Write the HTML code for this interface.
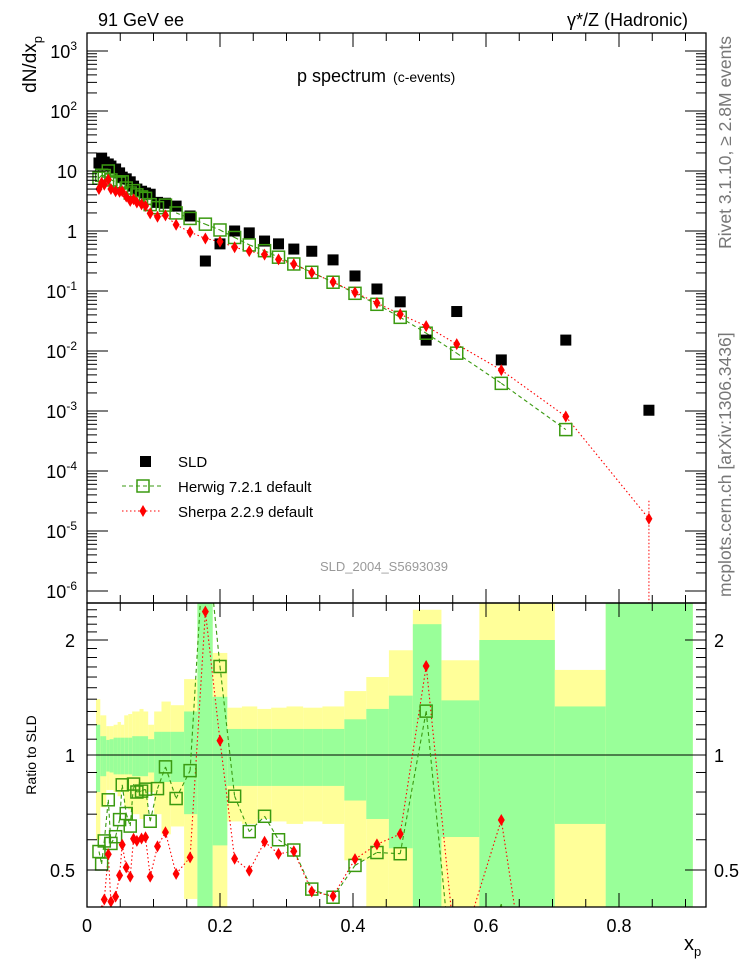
<!DOCTYPE html>
<html><head><meta charset="utf-8">
<style>
html,body{margin:0;padding:0;background:#fff;width:746px;height:972px;overflow:hidden;}
svg{display:block;font-family:"Liberation Sans",Arial,sans-serif;}
</style></head>
<body>
<svg id="chart" width="746" height="972" viewBox="0 0 746 972" xmlns="http://www.w3.org/2000/svg">
<defs>
<clipPath id="clipTop"><rect x="87" y="33" width="619" height="570"/></clipPath>
<clipPath id="clipBot"><rect x="87" y="603" width="619" height="304"/></clipPath>
</defs>
<g id="bands"></g>
<g id="marks"></g>
<rect x="87" y="33" width="619" height="570" fill="none" stroke="#000" stroke-width="1.3"/>
<rect x="87" y="603" width="619" height="304" fill="none" stroke="#000" stroke-width="1.3"/>
<g id="axes"></g>
<text x="98" y="26" font-size="18">91 GeV ee</text>
<text x="688" y="26" font-size="18" text-anchor="end">γ*/Z (Hadronic)</text>
<text x="297" y="82" font-size="18">p spectrum <tspan font-size="14" dx="2">(c-events)</tspan></text>
<text transform="translate(36,36) rotate(-90)" font-size="19" text-anchor="end">dN/dx<tspan font-size="13" dy="6">p</tspan></text>
<text transform="translate(36,755) rotate(-90)" font-size="14" text-anchor="middle">Ratio to SLD</text>
<text x="684" y="950" font-size="20">x<tspan font-size="13" dy="6">p</tspan></text>
<text transform="translate(731,36) rotate(-90)" font-size="17.5" fill="#777" text-anchor="end">Rivet 3.1.10, ≥ 2.8M events</text>
<text transform="translate(731,597) rotate(-90)" font-size="17.5" fill="#777">mcplots.cern.ch [arXiv:1306.3436]</text>
<text x="384" y="571" font-size="13" fill="#999" text-anchor="middle">SLD_2004_S5693039</text>
<g>
  <rect x="140" y="456" width="11" height="11" fill="#000"/>
  <text x="178" y="467" font-size="15">SLD</text>
  <line x1="122" y1="486" x2="162" y2="486" stroke="#3a9a10" stroke-dasharray="4,3"/>
  <rect x="137" y="480" width="12" height="12" fill="none" stroke="#3a9a10" stroke-width="1.5"/>
  <text x="178" y="492" font-size="15">Herwig 7.2.1 default</text>
  <line x1="122" y1="511" x2="162" y2="511" stroke="#f00" stroke-dasharray="1.5,2.5"/>
  <path d="M143,505 L146.5,511 L143,517 L139.5,511 Z" fill="#f00"/>
  <text x="178" y="517" font-size="15">Sherpa 2.2.9 default</text>
</g>
</svg>
<script>
const xp = [0.018,0.022,0.026,0.032,0.036,0.043,0.049,0.053,0.059,0.065,0.070,0.075,0.082,0.088,0.095,0.106,0.118,0.134,0.155,0.178,0.200,0.222,0.244,0.267,0.288,0.311,0.338,0.370,0.403,0.436,0.471,0.510,0.556,0.623,0.720,0.845];
const binEdges = [0.0135,0.020,0.024,0.029,0.034,0.040,0.046,0.051,0.056,0.062,0.068,0.073,0.079,0.085,0.092,0.101,0.112,0.126,0.146,0.166,0.189,0.211,0.233,0.256,0.277,0.300,0.325,0.354,0.387,0.420,0.454,0.490,0.533,0.590,0.7035,0.780,0.911];
const sld = [13.6,16.4,14.1,13.1,12.1,10.8,9.3,7.9,7.4,6.6,5.6,5.0,4.6,4.3,4.1,3.0,2.9,2.6,1.78,0.316,0.61,1.0,0.93,0.68,0.61,0.50,0.46,0.33,0.178,0.108,0.066,0.0152,0.0455,0.0071,0.0152,0.00103];
const herwig = [7.6,8.5,8.4,10.0,7.1,6.6,6.3,6.6,5.2,4.3,4.7,4.0,3.7,3.5,2.75,2.45,2.7,2.0,1.62,1.3,1.04,0.78,0.586,0.47,0.366,0.282,0.205,0.140,0.0915,0.060,0.0364,0.0198,0.0092,0.00289,0.00049,null];
const sherpa = [5.0,6.4,5.9,7.2,5.0,4.6,4.5,4.6,3.76,3.17,3.38,2.98,2.78,2.62,1.97,1.73,1.82,1.27,0.96,0.75,0.665,0.535,0.463,0.403,0.336,0.28,0.202,0.141,0.095,0.063,0.041,0.026,0.013,0.0048,0.00081,0.000016];
const errStat = [0.2,0.12,0.12,0.095,0.1,0.11,0.11,0.11,0.11,0.11,0.12,0.12,0.12,0.12,0.1,0.15,0.15,0.15,0.3,1.6,0.42,0.17,0.17,0.17,0.17,0.17,0.17,0.17,0.24,0.32,0.43,1.2,0.39,1.0,0.34,1.6];
const errTot = [0.40,0.27,0.27,0.19,0.19,0.2,0.22,0.2,0.27,0.28,0.3,0.3,0.32,0.3,0.2,0.3,0.38,0.35,0.58,1.6,0.85,0.33,0.34,0.32,0.33,0.34,0.33,0.34,0.47,0.6,0.88,1.4,0.77,1.5,0.67,1.6];
const yTicks = [-6,-5,-4,-3,-2,-1,0,1,2,3];
const xTickLabels = ["0","0.2","0.4","0.6","0.8"];
const ratioTickLabels = ["0.5","1","2"];

const NS="http://www.w3.org/2000/svg";
const X0=87, XW=665;
function xs(v){return X0+v*XW;}
function ys(v){return 231-60*Math.log10(v);}
function yr(v){return 755-382*Math.log10(v);}
function mk(tag,attrs,parent){const e=document.createElementNS(NS,tag);for(const k in attrs)e.setAttribute(k,attrs[k]);parent.appendChild(e);return e;}
const bands=document.getElementById('bands');
const marks=document.getElementById('marks');
const axes=document.getElementById('axes');
const bandClip=mk('g',{'clip-path':'url(#clipBot)'},bands);

for(let i=0;i<xp.length;i++){
  const x1=xs(binEdges[i]), x2=xs(binEdges[i+1]);
  const topT=Math.max(yr(1+errTot[i]),603), topS=Math.max(yr(1+errStat[i]),603);
  const botT=Math.min(yr(Math.max(1-errTot[i],0.01)),907), botS=Math.min(yr(Math.max(1-errStat[i],0.01)),907);
  const t=mk('rect',{x:x1,y:topT,width:x2-x1,height:botT-topT,fill:'#ffff99'},bandClip);
  
  
  const s=mk('rect',{x:x1,y:topS,width:x2-x1,height:botS-topS,fill:'#99ff99'},bandClip);
  
  
}
const one=mk('line',{x1:87,x2:706,y1:yr(1),y2:yr(1),stroke:'#000','stroke-width':1},bands);



const topG=mk('g',{'clip-path':'url(#clipTop)'},marks);
const botG=mk('g',{'clip-path':'url(#clipBot)'},marks);

function polyline(vals,yf,g,color,dash,name,ymin,ymax){
  let d='';
  for(let i=0;i<xp.length-1;i++){
    if(vals[i]==null||vals[i+1]==null||!(vals[i]>0)||!(vals[i+1]>0))continue;
    let x1=xs(xp[i]),y1=yf(vals[i]),x2=xs(xp[i+1]),y2=yf(vals[i+1]);
    // clip segment to [ymin,ymax]
    if((y1<ymin&&y2<ymin)||(y1>ymax&&y2>ymax))continue;
    function cl(xa,ya,xb,yb){
      if(ya>ymax){const t=(ymax-ya)/(yb-ya);return [xa+t*(xb-xa),ymax];}
      if(ya<ymin){const t=(ymin-ya)/(yb-ya);return [xa+t*(xb-xa),ymin];}
      return [xa,ya];
    }
    const a=cl(x1,y1,x2,y2), b=cl(x2,y2,x1,y1);
    d+='M'+a[0].toFixed(1)+','+a[1].toFixed(1)+' L'+b[0].toFixed(1)+','+b[1].toFixed(1)+' ';
  }
  const p=mk('path',{d:d,fill:'none',stroke:color,'stroke-width':1.1,'stroke-dasharray':dash},g);
  
  
}
function square(x,y,g,name){
  const r=mk('rect',{x:x-6,y:y-6,width:12,height:12,fill:'none',stroke:'#3a9a10','stroke-width':1.5},g);
  
  
}
function diamond(x,y,g,name){
  const p=mk('path',{d:`M${x},${y-6} L${x+3.5},${y} L${x},${y+6} L${x-3.5},${y} Z`,fill:'#f00'},g);
  
  
}
polyline(herwig,ys,topG,'#3a9a10','4,3','herwig-line',33,603);
polyline(sherpa,ys,topG,'#f00','1.5,2.5','sherpa-line',33,603);
for(let i=0;i<xp.length;i++){
  const r=mk('rect',{x:xs(xp[i])-5.5,y:ys(sld[i])-5.5,width:11,height:11,fill:'#000'},topG);
  
  
}
for(let i=0;i<xp.length;i++){ if(herwig[i]!=null) square(xs(xp[i]),ys(herwig[i]),topG,'herwig-point'); }
for(let i=0;i<xp.length;i++){ diamond(xs(xp[i]),ys(sherpa[i]),topG,'sherpa-point'); }
{const i=xp.length-1;const eb=mk('line',{x1:xs(xp[i]),x2:xs(xp[i]),y1:ys(sherpa[i]*2),y2:603,stroke:'#f00','stroke-dasharray':'1.5,2'},topG);

}

const hr=herwig.map((v,i)=>v==null?null:v/sld[i]);
const sr=sherpa.map((v,i)=>v/sld[i]);
polyline(hr,yr,botG,'#3a9a10','4,3','herwig-ratio-line',603,907);
polyline(sr,yr,botG,'#f00','1.5,2.5','sherpa-ratio-line',603,907);
for(let i=0;i<xp.length;i++){ if(hr[i]!=null&&hr[i]>0.415&&hr[i]<2.6) square(xs(xp[i]),yr(hr[i]),botG,'herwig-ratio-point'); }
for(let i=0;i<xp.length;i++){ if(sr[i]>0.38&&sr[i]<2.6) diamond(xs(xp[i]),yr(sr[i]),botG,'sherpa-ratio-point'); }

function tl(x1,y1,x2,y2){const l=mk('line',{x1:x1,y1:y1,x2:x2,y2:y2,stroke:'#000','stroke-width':1},axes);

}
for(let k=0;k<yTicks.length;k++){
  const e=yTicks[k];
  for(let m=1;m<10;m++){
    const y=ys(m*Math.pow(10,e));
    if(y<33||y>603)continue;
    const len=m==1?21:10;
    tl(87,y,87+len,y);tl(706,y,706-len,y);
  }
  const t=mk('text',{x:77,y:ys(Math.pow(10,e))+7,'font-size':18,'text-anchor':'end'},axes);
  
  
  if(e===0) t.textContent='1';
  else if(e===1) t.textContent='10';
  else t.innerHTML='10<tspan font-size="12" dy="-8">'+e+'</tspan>';
}
for(let v=0;v<=0.93;v+=0.05){
  const x=xs(v);const major=Math.abs(v/0.2-Math.round(v/0.2))<1e-6;
  const L=major?14:8;
  tl(x,33,x,33+L);tl(x,603,x,603-L);tl(x,603,x,603+L);tl(x,907,x,907-L);
}
for(let k=0;k<xTickLabels.length;k++){
  const t=mk('text',{x:xs(k*0.2),y:932,'font-size':18,'text-anchor':'middle'},axes);
  
  
  t.textContent=xTickLabels[k];
}
for(let v=0.4;v<=2.51;v+=0.1){
  const y=yr(v);const major=(Math.abs(v-0.5)<1e-6||Math.abs(v-1)<1e-6||Math.abs(v-2)<1e-6);
  const L=major?21:10;
  tl(87,y,87+L,y);tl(706,y,706-L,y);
}
for(let k=0;k<ratioTickLabels.length;k++){
  const v=parseFloat(ratioTickLabels[k]);
  const a=mk('text',{x:75,y:yr(v)+7,'font-size':18,'text-anchor':'end'},axes);
  
  
  a.textContent=ratioTickLabels[k];
  const b=mk('text',{x:714,y:yr(v)+7,'font-size':18},axes);
  
  
  b.textContent=ratioTickLabels[k];
}
</script>
</body></html>
